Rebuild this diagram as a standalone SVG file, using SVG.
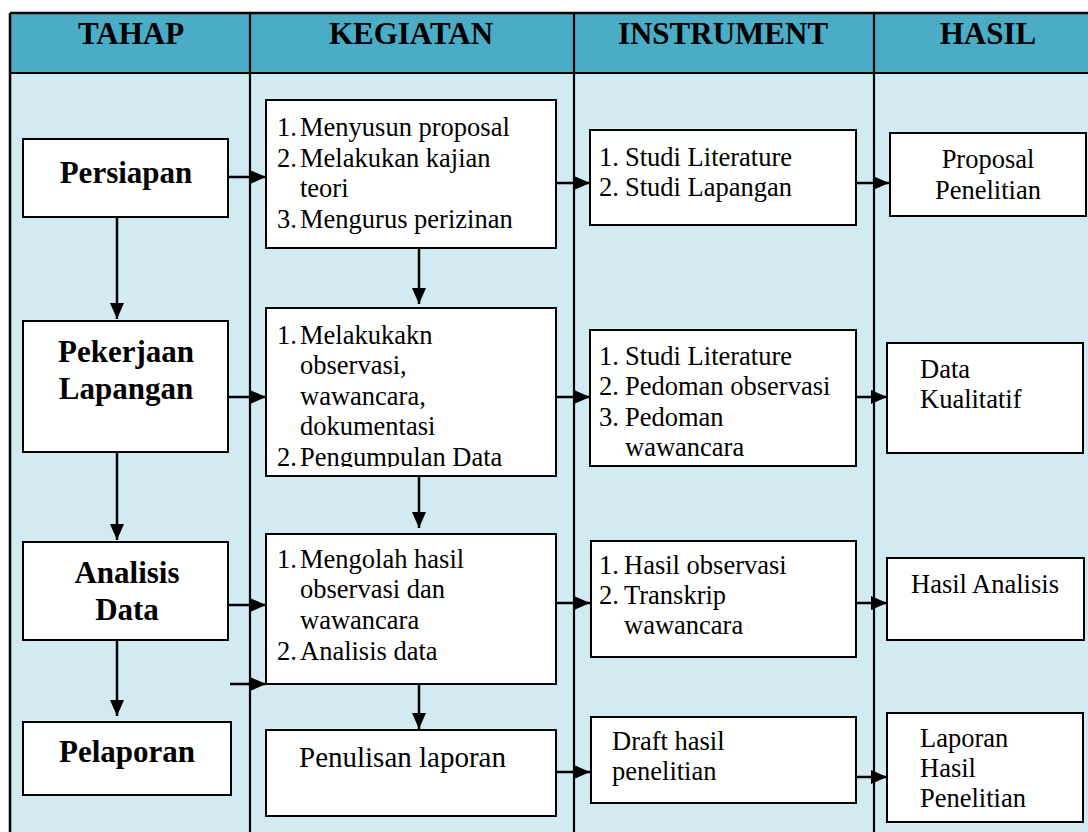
<svg xmlns="http://www.w3.org/2000/svg" width="1088" height="832" viewBox="0 0 1088 832">
<style>
.frame{stroke:#000;stroke-width:2.5;fill:none}
.box{fill:#fff;stroke:#000;stroke-width:2}
.hd{font-family:"Liberation Serif","Times New Roman",serif;font-weight:bold;font-size:31px;text-anchor:middle;fill:#000}
.bt{font-family:"Liberation Serif","Times New Roman",serif;font-weight:bold;font-size:31px;text-anchor:middle;fill:#000}
.t{font-family:"Liberation Serif","Times New Roman",serif;font-size:26.5px;fill:#000}
.tc{font-family:"Liberation Serif","Times New Roman",serif;font-size:26.5px;fill:#000;text-anchor:middle}
.tl{font-family:"Liberation Serif","Times New Roman",serif;font-size:29px;fill:#000}
.c{stroke:#000;stroke-width:2.5;fill:none;marker-end:url(#ah)}
</style>
<defs>
<marker id="ah" markerUnits="userSpaceOnUse" markerWidth="16" markerHeight="14" refX="16" refY="7" orient="auto">
<path d="M0,0 L16,7 L0,14 z" fill="#000"/>
</marker>
<clipPath id="clipK2"><rect x="266" y="308" width="290" height="159"/></clipPath>
</defs>
<g id="lanes">
<rect x="10" y="13" width="1090" height="60" fill="#4BACC6"/>
<rect x="10" y="73" width="1090" height="770" fill="#D2EAF1"/>
<line class="frame" x1="10" y1="13" x2="1100" y2="13"/>
<line class="frame" x1="10" y1="13" x2="10" y2="840"/>
<line class="frame" x1="10" y1="73" x2="1100" y2="73" style="stroke-width:2"/>
<line class="frame" x1="250" y1="13" x2="250" y2="840" style="stroke-width:2.2"/>
<line class="frame" x1="574" y1="13" x2="574" y2="840" style="stroke-width:2.2"/>
<line class="frame" x1="874" y1="13" x2="874" y2="840" style="stroke-width:2.2"/>
<text class="hd" x="131" y="44">TAHAP</text>
<text class="hd" x="411" y="44">KEGIATAN</text>
<text class="hd" x="723" y="44">INSTRUMENT</text>
<text class="hd" x="988" y="44">HASIL</text>
</g>
<g id="connectors">
<line class="c" x1="117" y1="217" x2="117" y2="319"/>
<line class="c" x1="117" y1="452" x2="117" y2="540"/>
<line class="c" x1="117" y1="640" x2="117" y2="716"/>
<line class="c" x1="419" y1="248" x2="419" y2="304"/>
<line class="c" x1="419" y1="476" x2="419" y2="528"/>
<line class="c" x1="419" y1="684" x2="419" y2="729"/>
<line class="c" x1="228" y1="177" x2="266" y2="177"/>
<line class="c" x1="228" y1="397" x2="266" y2="397"/>
<line class="c" x1="228" y1="605" x2="266" y2="605"/>
<line class="c" x1="230" y1="684" x2="266" y2="684"/>
<line class="c" x1="556" y1="183" x2="590" y2="183"/>
<line class="c" x1="556" y1="397" x2="590" y2="397"/>
<line class="c" x1="556" y1="603" x2="590" y2="603"/>
<line class="c" x1="556" y1="772" x2="590" y2="772"/>
<line class="c" x1="856" y1="183" x2="889" y2="183"/>
<line class="c" x1="856" y1="397" x2="887" y2="397"/>
<line class="c" x1="856" y1="603" x2="887" y2="603"/>
<line class="c" x1="856" y1="777" x2="887" y2="777"/>
</g>
<g id="tahap-persiapan">
<rect class="box" x="23" y="139" width="205" height="78"/>
<text class="bt" x="126" y="183">Persiapan</text>
</g>
<g id="tahap-pekerjaan">
<rect class="box" x="23" y="321" width="205" height="131"/>
<text class="bt" x="126" y="362">Pekerjaan</text>
<text class="bt" x="126" y="399">Lapangan</text>
</g>
<g id="tahap-analisis">
<rect class="box" x="23" y="542" width="205" height="98"/>
<text class="bt" x="127" y="583">Analisis</text>
<text class="bt" x="127" y="620">Data</text>
</g>
<g id="tahap-pelaporan">
<rect class="box" x="23" y="722" width="208" height="73"/>
<text class="bt" x="127" y="762">Pelaporan</text>
</g>
<g id="kegiatan-1">
<rect class="box" x="266" y="100" width="290" height="148"/>
<text class="t" x="277" y="136">1.<tspan x="300">Menyusun proposal</tspan></text>
<text class="t" x="277" y="167">2.<tspan x="300">Melakukan kajian</tspan></text>
<text class="t" x="300" y="197">teori</text>
<text class="t" x="277" y="228">3.<tspan x="300">Mengurus perizinan</tspan></text>
</g>
<g id="kegiatan-2">
<rect class="box" x="266" y="308" width="290" height="168"/>
<g clip-path="url(#clipK2)">
<text class="t" x="277" y="344">1.<tspan x="300">Melakukakn</tspan></text>
<text class="t" x="300" y="374">observasi,</text>
<text class="t" x="300" y="405">wawancara,</text>
<text class="t" x="300" y="435">dokumentasi</text>
<text class="t" x="277" y="466">2.<tspan x="300">Pengumpulan Data</tspan></text>
</g>
</g>
<g id="kegiatan-3">
<rect class="box" x="266" y="534" width="290" height="150"/>
<text class="t" x="277" y="568">1.<tspan x="300">Mengolah hasil</tspan></text>
<text class="t" x="300" y="598">observasi dan</text>
<text class="t" x="300" y="629">wawancara</text>
<text class="t" x="277" y="660">2.<tspan x="300">Analisis data</tspan></text>
</g>
<g id="kegiatan-4">
<rect class="box" x="266" y="730" width="290" height="86"/>
<text class="tl" x="299" y="767">Penulisan laporan</text>
</g>
<g id="instrumen-1">
<rect class="box" x="590" y="130" width="266" height="95"/>
<text class="t" x="599" y="166">1.<tspan x="625">Studi Literature</tspan></text>
<text class="t" x="599" y="196">2.<tspan x="625">Studi Lapangan</tspan></text>
</g>
<g id="instrumen-2">
<rect class="box" x="590" y="330" width="266" height="136"/>
<text class="t" x="599" y="365">1.<tspan x="625">Studi Literature</tspan></text>
<text class="t" x="599" y="395">2.<tspan x="625">Pedoman observasi</tspan></text>
<text class="t" x="599" y="426">3.<tspan x="625">Pedoman</tspan></text>
<text class="t" x="625" y="456">wawancara</text>
</g>
<g id="instrumen-3">
<rect class="box" x="591" y="541" width="265" height="116"/>
<text class="t" x="599" y="574">1.<tspan x="624">Hasil observasi</tspan></text>
<text class="t" x="599" y="604">2.<tspan x="624">Transkrip</tspan></text>
<text class="t" x="624" y="634">wawancara</text>
</g>
<g id="instrumen-4">
<rect class="box" x="591" y="717" width="265" height="86"/>
<text class="t" x="612" y="750">Draft hasil</text>
<text class="t" x="612" y="780">penelitian</text>
</g>
<g id="hasil-1">
<rect class="box" x="890" y="133" width="196" height="83"/>
<text class="tc" x="988" y="168">Proposal</text>
<text class="tc" x="988" y="199">Penelitian</text>
</g>
<g id="hasil-2">
<rect class="box" x="887" y="343" width="196" height="110"/>
<text class="t" x="920" y="378">Data</text>
<text class="t" x="920" y="408">Kualitatif</text>
</g>
<g id="hasil-3">
<rect class="box" x="887" y="558" width="197" height="82"/>
<text class="t" x="911" y="593">Hasil Analisis</text>
</g>
<g id="hasil-4">
<rect class="box" x="887" y="713" width="196" height="109"/>
<text class="t" x="920" y="747">Laporan</text>
<text class="t" x="920" y="777">Hasil</text>
<text class="t" x="920" y="807">Penelitian</text>
</g>
</svg>
